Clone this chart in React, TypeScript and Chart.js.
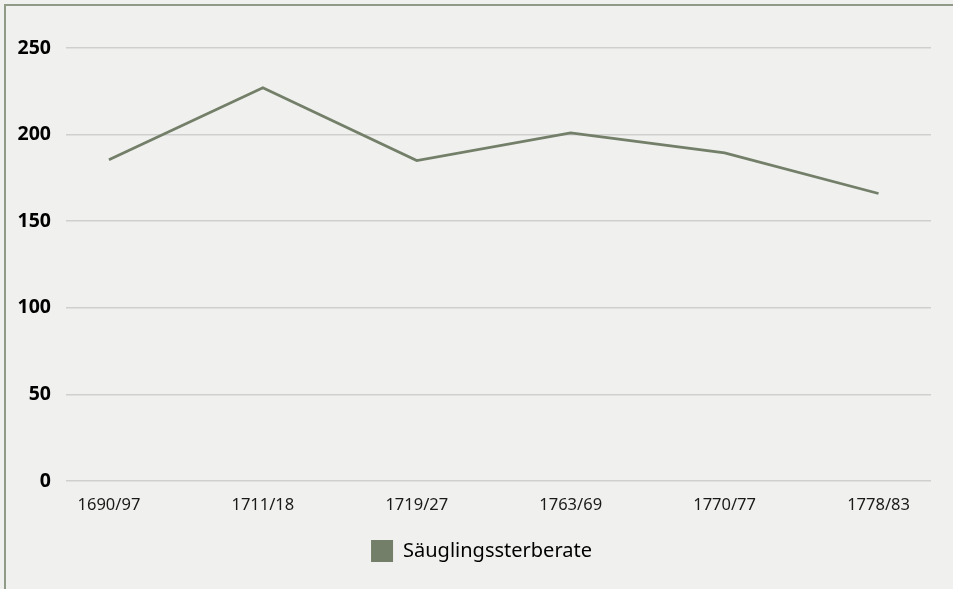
import React, { useEffect, useRef } from "react";
import { Chart, registerables } from "chart.js";

Chart.register(...registerables);

const categories = ["1690/97", "1711/18", "1719/27", "1763/69", "1770/77", "1778/83"];
const seriesName = "Säuglingssterberate";
const seriesValues = [185.5, 227, 185, 201, 189.5, 166];
const yTicks = [0, 50, 100, 150, 200, 250];

const LINE = "#737f69";
const FONT = "'Noto Sans', 'Open Sans', sans-serif";

const legendShift = {
  id: "legendShift",
  afterLayout(chart: any) {
    if (chart.legend) {
      chart.legend.left += 16;
      chart.legend.right += 16;
    }
  },
};

const frame = {
  id: "frame",
  beforeDraw(chart: any) {
    const c = chart.ctx;
    c.save();
    c.fillStyle = "#f0f0ee";
    c.fillRect(0, 0, chart.width, chart.height);
    c.strokeStyle = "#8f9b87";
    c.lineWidth = 2;
    c.beginPath();
    c.moveTo(5, chart.height + 5);
    c.lineTo(5, 5);
    c.lineTo(chart.width + 5, 5);
    c.stroke();
    c.restore();
  },
};

export default function App() {
  const ref = useRef<HTMLCanvasElement | null>(null);

  useEffect(() => {
    const prevBg = document.body.style.background;
    const prevMargin = document.body.style.margin;
    document.body.style.background = "#f0f0ee";
    document.body.style.margin = "0";
    const ctx = ref.current!.getContext("2d")!;
    const chart = new Chart(ctx, {
      type: "line",
      data: {
        datasets: [
          {
            label: seriesName,
            data: seriesValues.map((v, i) => ({ x: i, y: v })),
            borderColor: LINE,
            backgroundColor: LINE,
            borderWidth: 2.8,
            pointRadius: 0,
            pointHoverRadius: 0,
            tension: 0,
            fill: false,
          },
        ],
      },
      plugins: [frame, legendShift],
      options: {
        animation: false,
        responsive: false,
        events: [],
        layout: { padding: { left: 0, top: 48, right: 22, bottom: 17 } },
        scales: {
          x: {
            type: "linear",
            min: -0.279,
            max: 5.341,
            grid: { display: false, drawTicks: false },
            border: { display: false },
            afterBuildTicks: (scale: any) => {
              scale.ticks = categories.map((_, i) => ({ value: i }));
            },
            afterFit: (scale: any) => {
              scale.height = 49;
            },
            ticks: {
              padding: 14,
              autoSkip: false,
              maxRotation: 0,
              color: "#1a1a1a",
              font: { family: FONT, size: 16.5 },
              callback: (v: any) => categories[Math.round(Number(v))] ?? "",
            },
          },
          y: {
            min: 0,
            max: 250,
            afterBuildTicks: (scale: any) => {
              scale.ticks = yTicks.map((v) => ({ value: v }));
            },
            afterFit: (scale: any) => {
              scale.width = 66;
            },
            grid: { color: "#cfcfcd", lineWidth: 1.5, drawTicks: false },
            border: { display: false },
            ticks: {
              padding: 15,
              color: "#000000",
              font: { family: FONT, size: 19.5, weight: "bold" },
            },
          },
        },
        plugins: {
          legend: {
            position: "bottom",
            labels: {
              boxWidth: 22,
              boxHeight: 22,
              padding: 10,
              color: "#1a1a1a",
              font: { family: FONT, size: 20 },
              generateLabels: () => [
                {
                  text: seriesName,
                  fillStyle: LINE,
                  strokeStyle: LINE,
                  lineWidth: 0,
                  hidden: false,
                  datasetIndex: 0,
                },
              ],
            },
          },
          tooltip: { enabled: false },
        },
      },
    });
    return () => {
      chart.destroy();
      document.body.style.background = prevBg;
      document.body.style.margin = prevMargin;
    };
  }, []);

  return (
    <div style={{ position: "fixed", left: 0, top: 0, width: 953, height: 589, background: "#f0f0ee", overflow: "hidden" }}>
      <canvas ref={ref} width={953} height={589} style={{ display: "block", position: "absolute", left: 0, top: 0 }} />
    </div>
  );
}
